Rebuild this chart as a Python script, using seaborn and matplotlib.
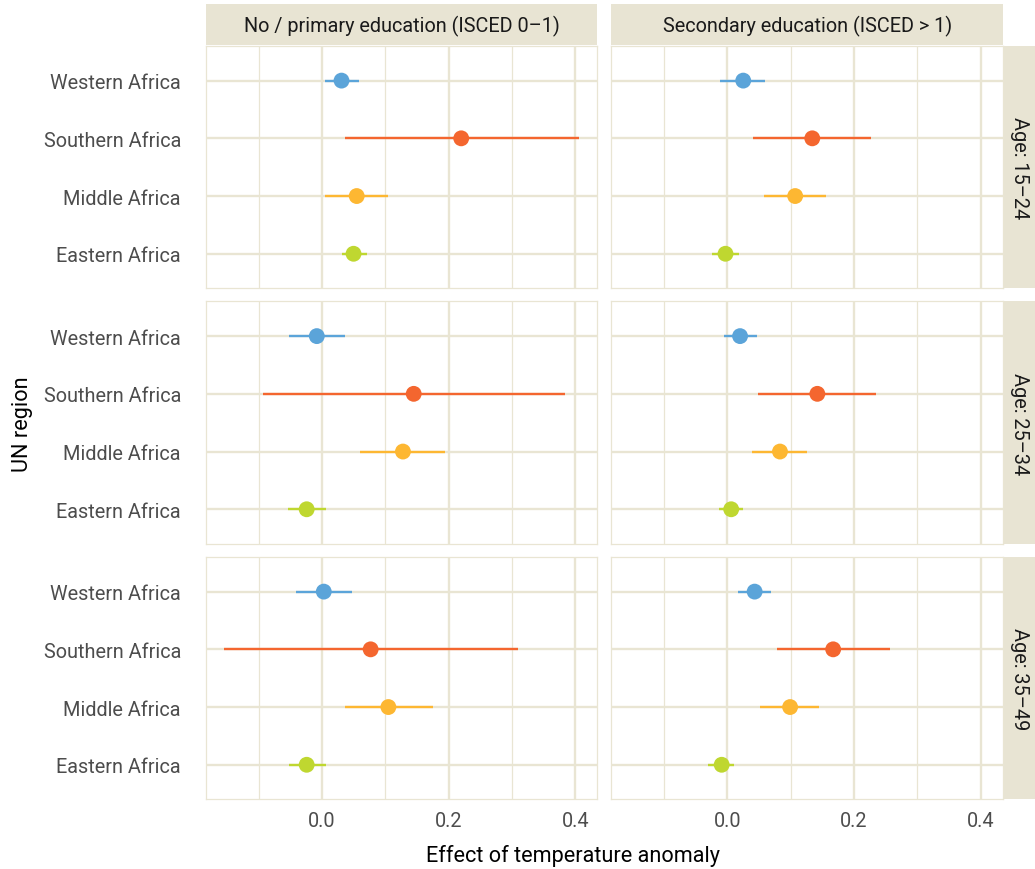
import numpy as np
import pandas as pd
import matplotlib
matplotlib.use("Agg")
import matplotlib.pyplot as plt
import seaborn as sns

regions = ["Eastern Africa", "Middle Africa", "Southern Africa", "Western Africa"]
education = ["No / primary education (ISCED 0\u20131)", "Secondary education (ISCED > 1)"]
ages = ["Age: 15\u201324", "Age: 25\u201334", "Age: 35\u201349"]

# estimates [age][education] in order of regions (Eastern, Middle, Southern, Western)
est_15_prim = [0.050, 0.055, 0.220, 0.031]
lo_15_prim = [0.031, 0.005, 0.036, 0.005]
hi_15_prim = [0.072, 0.104, 0.406, 0.058]
est_15_sec = [-0.003, 0.107, 0.134, 0.025]
lo_15_sec = [-0.024, 0.058, 0.041, -0.011]
hi_15_sec = [0.019, 0.156, 0.227, 0.060]

est_25_prim = [-0.024, 0.128, 0.145, -0.008]
lo_25_prim = [-0.053, 0.060, -0.093, -0.052]
hi_25_prim = [0.006, 0.195, 0.384, 0.036]
est_25_sec = [0.006, 0.083, 0.142, 0.020]
lo_25_sec = [-0.013, 0.039, 0.049, -0.005]
hi_25_sec = [0.025, 0.126, 0.235, 0.047]

est_35_prim = [-0.024, 0.105, 0.077, 0.003]
lo_35_prim = [-0.052, 0.036, -0.154, -0.041]
hi_35_prim = [0.006, 0.175, 0.309, 0.047]
est_35_sec = [-0.009, 0.099, 0.167, 0.043]
lo_35_sec = [-0.030, 0.052, 0.079, 0.017]
hi_35_sec = [0.011, 0.145, 0.257, 0.069]

table = {
    (ages[0], education[0]): (est_15_prim, lo_15_prim, hi_15_prim),
    (ages[0], education[1]): (est_15_sec, lo_15_sec, hi_15_sec),
    (ages[1], education[0]): (est_25_prim, lo_25_prim, hi_25_prim),
    (ages[1], education[1]): (est_25_sec, lo_25_sec, hi_25_sec),
    (ages[2], education[0]): (est_35_prim, lo_35_prim, hi_35_prim),
    (ages[2], education[1]): (est_35_sec, lo_35_sec, hi_35_sec),
}
rows = []
for (a, e), (est, lo, hi) in table.items():
    for r, v, l, h in zip(regions, est, lo, hi):
        rows.append(dict(age=a, edu=e, region=r, est=v, lo=l, hi=h))
df = pd.DataFrame(rows)

palette = {"Western Africa": "#5BA4D9", "Southern Africa": "#F4662F",
           "Middle Africa": "#FDB732", "Eastern Africa": "#BFD730"}

sns.set_theme(style="white")
plt.rcParams['font.family'] = ['Roboto', 'DejaVu Sans']

GRID = "#E9E5D3"
STRIP = "#E8E4D3"
FS = 14.3

g = sns.FacetGrid(df, row="age", col="edu", row_order=ages, col_order=education,
                  sharex=True, sharey=True, height=2.9, aspect=1.6, margin_titles=False)
g.figure.set_size_inches(10.35, 8.7)


def draw(data, **kws):
    ax = plt.gca()
    ypos = data["region"].map({r: i for i, r in enumerate(regions)})
    for y, l, h, r in zip(ypos, data["lo"], data["hi"], data["region"]):
        ax.hlines(y, l, h, color=palette[r], lw=1.7, zorder=3)
    sns.scatterplot(x=data["est"].values, y=ypos.values, hue=data["region"].values,
                    palette=palette, s=130, linewidth=0, legend=False, ax=ax, zorder=4)


g.map_dataframe(draw)
g.set_titles("")
g.figure.subplots_adjust(left=0.199, right=0.969, bottom=0.080, top=0.946,
                         wspace=0.036, hspace=0.054)

for ax in g.axes.flat:
    ax.set_xlim(-0.183, 0.435)
    ax.set_ylim(-0.6, 3.6)
    ax.set_xticks([0.0, 0.2, 0.4])
    ax.set_xticks([-0.1, 0.1, 0.3], minor=True)
    ax.set_yticks(range(len(regions)))
    ax.set_yticklabels(regions)
    ax.set_xticklabels(["0.0", "0.2", "0.4"])
    ax.grid(True, which="major", color=GRID, lw=1.7)
    ax.grid(True, which="minor", axis="x", color=GRID, lw=0.9)
    ax.set_axisbelow(True)
    ax.tick_params(length=0, labelsize=FS, labelcolor="#4D4D4D")
    ax.tick_params(axis="y", pad=18)
    ax.tick_params(axis="x", pad=8)
    ax.tick_params(axis="x", which="minor", length=0)
    for s in ax.spines.values():
        s.set_visible(True)
        s.set_color(GRID)
        s.set_linewidth(0.9)
    ax.set_xlabel("")
    ax.set_ylabel("")

fig = g.figure
# top strips
for j, e in enumerate(education):
    p = g.axes[0, j].get_position()
    sax = fig.add_axes([p.x0, p.y1 + 0.001, p.width, 0.047])
    sax.set_facecolor(STRIP)
    sax.set_xticks([]); sax.set_yticks([])
    for s in sax.spines.values():
        s.set_visible(False)
    sax.text(0.5, 0.48, e, ha="center", va="center", fontsize=FS, color="#1A1A1A",
             transform=sax.transAxes)
# right strips
for i, a in enumerate(ages):
    p = g.axes[i, 1].get_position()
    sax = fig.add_axes([p.x1 + 0.001, p.y0, 0.030, p.height])
    sax.set_facecolor(STRIP)
    sax.set_xticks([]); sax.set_yticks([])
    for s in sax.spines.values():
        s.set_visible(False)
    sax.text(0.5, 0.5, a, ha="center", va="center", fontsize=FS, color="#1A1A1A",
             rotation=-90, transform=sax.transAxes)

fig.text(0.554, 0.016, "Effect of temperature anomaly", ha="center", va="center",
         fontsize=15.6, color="#000000")
fig.text(0.022, 0.513, "UN region", ha="center", va="center", rotation=90,
         fontsize=15.6, color="#000000")

fig.savefig("out.png", dpi=100)
